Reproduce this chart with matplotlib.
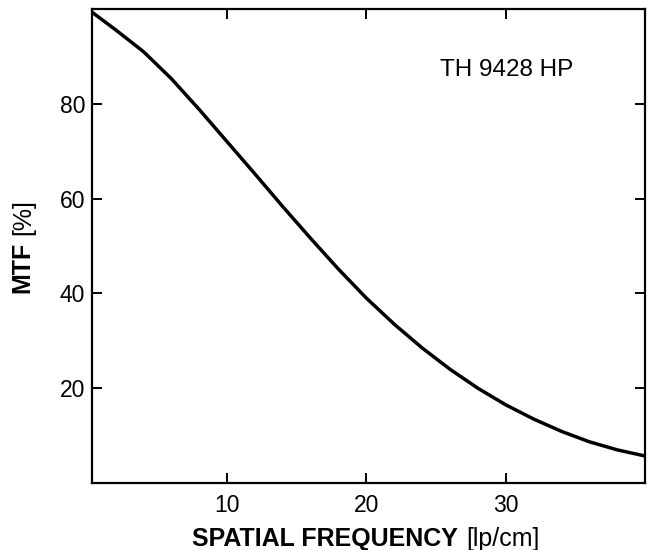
import matplotlib
matplotlib.use('Agg')
import matplotlib.pyplot as plt
from matplotlib.offsetbox import TextArea, HPacker, VPacker, AnchoredOffsetbox

plt.rcParams['font.family'] = ['Liberation Sans', 'DejaVu Sans']

# MTF curve
freq = [0, 2, 4, 6, 8, 10, 12, 14, 16, 18, 20, 22, 24, 26, 28, 30, 32, 34, 36, 38, 40]
mtf = [100, 95.6, 91, 85.3, 78.8, 72, 65.2, 58.3, 51.6, 45.1, 39, 33.5, 28.5, 24, 20, 16.5,
       13.5, 10.9, 8.7, 7.0, 5.7]
xticks = [10, 20, 30]
yticks = [20, 40, 60, 80]
tube = 'TH 9428 HP'

fig = plt.figure(figsize=(6.51, 5.50), dpi=100)
ax = fig.add_axes([0.1413, 0.1218, 0.8495, 0.8618])

ax.plot(freq, mtf, color='black', lw=2.5, solid_capstyle='butt', solid_joinstyle='round')
ax.set_xlim(0.3, 40)
ax.set_ylim(0, 100)
ax.set_xticks(xticks)
ax.set_yticks(yticks)
ax.tick_params(direction='in', length=7, width=1.4, labelsize=16.5,
               top=True, right=True, colors='black')
ax.tick_params(axis='x', pad=8)
ax.tick_params(axis='y', pad=5)
for s in ax.spines.values():
    s.set_linewidth(1.6)

ax.text(25.3, 85.8, tube, fontsize=17.5, va='baseline', ha='left')

# x label: bold part + normal part
xl = HPacker(children=[TextArea('SPATIAL FREQUENCY', textprops=dict(fontsize=18, fontweight='bold')),
                       TextArea('[lp/cm]', textprops=dict(fontsize=18))],
             align='baseline', pad=0, sep=6)
ab = AnchoredOffsetbox(loc='center', child=xl, frameon=False,
                       bbox_to_anchor=(0.495, -0.118), bbox_transform=ax.transAxes, pad=0, borderpad=0)
ax.add_artist(ab)

# y label, rotated pieces
ylab_bold = TextArea('MTF', textprops=dict(fontsize=18, fontweight='bold', rotation=90))
ylab_norm = TextArea('[%]', textprops=dict(fontsize=18, rotation=90))
yl = VPacker(children=[ylab_norm, ylab_bold], align='center', pad=0, sep=5)
ab2 = AnchoredOffsetbox(loc='center', child=yl, frameon=False,
                        bbox_to_anchor=(-0.125, 0.5), bbox_transform=ax.transAxes, pad=0, borderpad=0)
ax.add_artist(ab2)

fig.savefig('out.png', dpi=100)
